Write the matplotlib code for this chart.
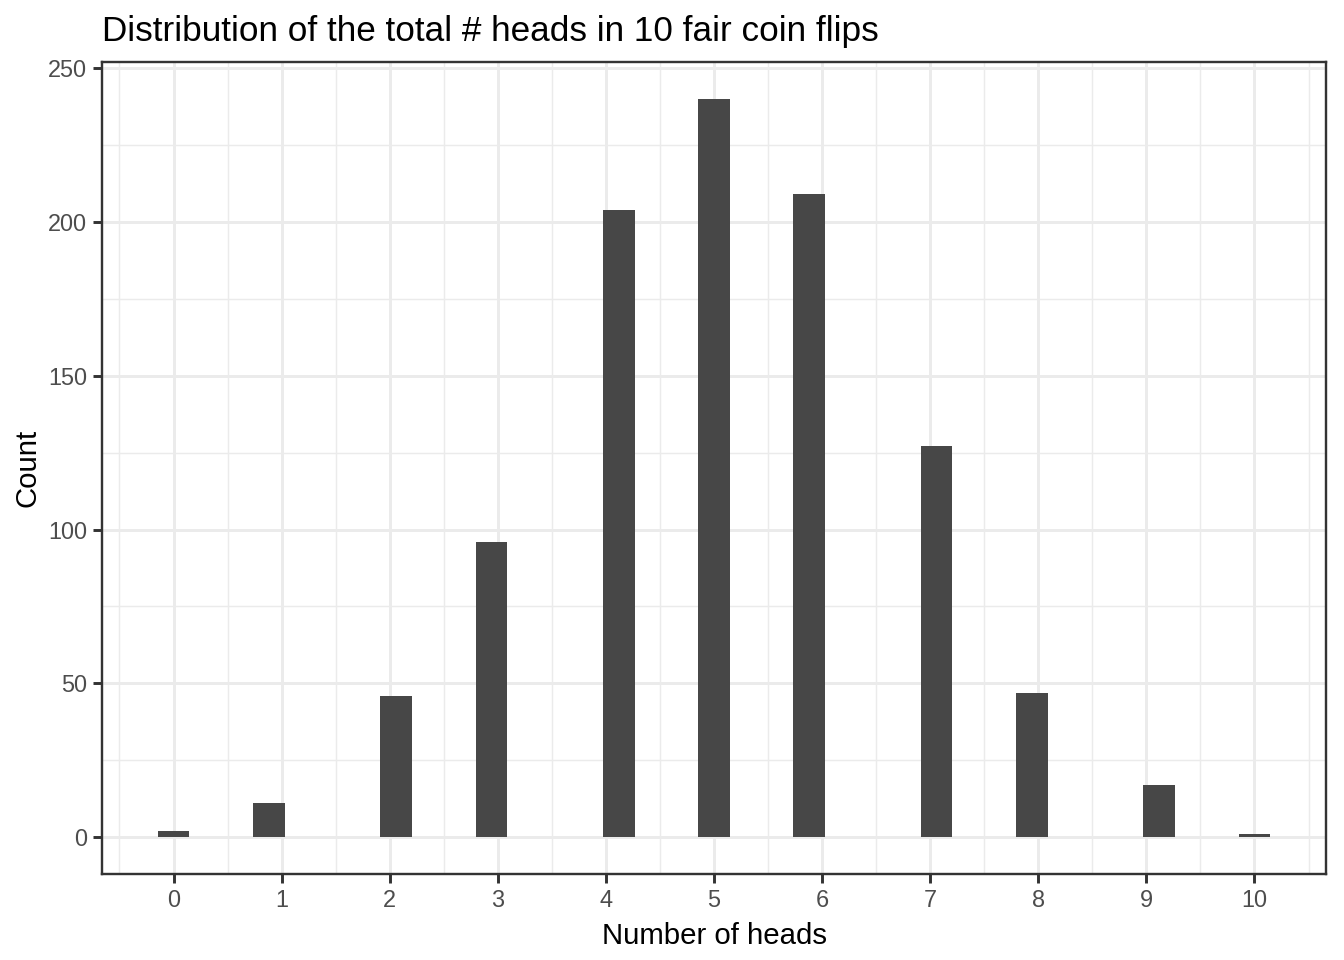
import numpy as np
import matplotlib.pyplot as plt

# number of heads and how many of the 1000 runs gave each
heads = [0, 1, 2, 3, 4, 5, 6, 7, 8, 9, 10]
counts = [2, 11, 46, 96, 204, 240, 209, 127, 47, 17, 1]

plt.rcParams['font.family'] = ['Liberation Sans', 'DejaVu Sans']

# ggplot-style binning: 35 bins spanning 0..10, centred on the range ends
nbins = 35
bw = (max(heads) - min(heads)) / (nbins - 1)
edges = np.linspace(min(heads) - bw / 2, max(heads) + bw / 2, nbins + 1)

fig = plt.figure(figsize=(7, 5), dpi=192)
ax = fig.add_axes([102 / 1344, 1 - 874 / 960, (1326 - 102) / 1344, (874 - 62) / 960])

ax.hist(heads, bins=edges, weights=counts, color='#474747', zorder=3)

lo, hi = edges[0], edges[-1]
pad = (hi - lo) * 0.05
ax.set_xlim(lo - pad, hi + pad)
ax.set_ylim(-0.05 * max(counts), max(counts) * 1.05)

ax.set_xticks(heads)
ax.set_xticks(np.arange(-0.5, 11, 1), minor=True)
ax.set_yticks([0, 50, 100, 150, 200, 250])
ax.set_yticks(np.arange(25, 250, 50), minor=True)

ax.grid(which='major', color='#ebebeb', linewidth=1.1, zorder=0)
ax.grid(which='minor', color='#ebebeb', linewidth=0.55, zorder=0)
ax.set_axisbelow(True)

for s in ax.spines.values():
    s.set_color('#333333')
    s.set_linewidth(0.9)

ax.tick_params(which='major', length=3.5, width=1.1, color='#333333',
               labelsize=8.8, labelcolor='#4d4d4d', pad=2.2)
ax.tick_params(which='minor', length=0)

ax.set_xlabel('Number of heads', fontsize=11, labelpad=3.5)
ax.set_ylabel('Count', fontsize=11, labelpad=2.5)
ax.set_title('Distribution of the total # heads in 10 fair coin flips',
             fontsize=13.2, loc='left', pad=8)

fig.savefig('out.png', dpi=192)
